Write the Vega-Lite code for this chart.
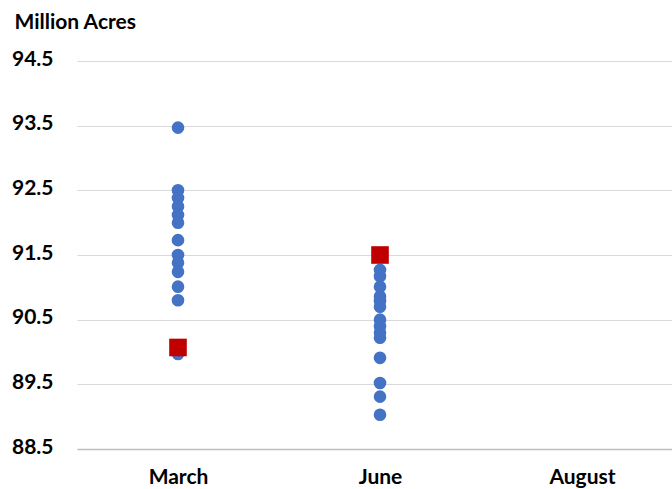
{
  "$schema": "https://vega.github.io/schema/vega-lite/v6.json",
  "width": 606,
  "height": 388,
  "autosize": {"type": "none"},
  "padding": {"left": 77, "top": 61, "right": 0, "bottom": 40},
  "background": "white",
  "config": {
    "view": {"stroke": null},
    "font": "Lato"
  },
  "data": {
    "values": [
      {"month": "March", "value": 93.47, "type": "Analyst"},
      {"month": "March", "value": 92.5, "type": "Analyst"},
      {"month": "March", "value": 92.38, "type": "Analyst"},
      {"month": "March", "value": 92.25, "type": "Analyst"},
      {"month": "March", "value": 92.12, "type": "Analyst"},
      {"month": "March", "value": 92.0, "type": "Analyst"},
      {"month": "March", "value": 91.73, "type": "Analyst"},
      {"month": "March", "value": 91.5, "type": "Analyst"},
      {"month": "March", "value": 91.38, "type": "Analyst"},
      {"month": "March", "value": 91.24, "type": "Analyst"},
      {"month": "March", "value": 91.01, "type": "Analyst"},
      {"month": "March", "value": 90.8, "type": "Analyst"},
      {"month": "March", "value": 89.97, "type": "Analyst"},
      {"month": "June", "value": 91.27, "type": "Analyst"},
      {"month": "June", "value": 91.17, "type": "Analyst"},
      {"month": "June", "value": 91.01, "type": "Analyst"},
      {"month": "June", "value": 90.86, "type": "Analyst"},
      {"month": "June", "value": 90.79, "type": "Analyst"},
      {"month": "June", "value": 90.7, "type": "Analyst"},
      {"month": "June", "value": 90.5, "type": "Analyst"},
      {"month": "June", "value": 90.4, "type": "Analyst"},
      {"month": "June", "value": 90.3, "type": "Analyst"},
      {"month": "June", "value": 90.22, "type": "Analyst"},
      {"month": "June", "value": 89.91, "type": "Analyst"},
      {"month": "June", "value": 89.52, "type": "Analyst"},
      {"month": "June", "value": 89.31, "type": "Analyst"},
      {"month": "June", "value": 89.03, "type": "Analyst"},
      {"month": "March", "value": 90.07, "type": "USDA"},
      {"month": "June", "value": 91.5, "type": "USDA"}
    ]
  },
  "mark": {"type": "point", "filled": true, "opacity": 1},
  "encoding": {
    "x": {
      "field": "month",
      "type": "nominal",
      "sort": ["March", "June", "August"],
      "scale": {"domain": ["March", "June", "August"], "paddingInner": 0, "paddingOuter": 0},
      "axis": {
        "title": null,
        "labelAngle": 0,
        "labelFont": "Lato",
        "labelFontSize": 21,
        "labelFontWeight": "bold",
        "labelColor": "#000000",
        "labelPadding": 17,
        "ticks": false,
        "domain": true,
        "domainColor": "#bfbfbf",
        "domainWidth": 1.5,
        "grid": false
      }
    },
    "y": {
      "field": "value",
      "type": "quantitative",
      "scale": {"domain": [88.5, 94.5], "zero": false, "nice": false},
      "axis": {
        "values": [88.5, 89.5, 90.5, 91.5, 92.5, 93.5, 94.5],
        "format": ".1f",
        "title": "Million Acres",
        "titleAngle": 0,
        "titleAlign": "left",
        "titleBaseline": "alphabetic",
        "titleX": -63,
        "titleY": -33,
        "titleFont": "Lato",
        "titleFontSize": 21,
        "titleFontWeight": "bold",
        "titleColor": "#000000",
        "labelFont": "Lato",
        "labelFontSize": 21,
        "labelFontWeight": "bold",
        "labelColor": "#000000",
        "labelPadding": 24,
        "labelOffset": -2,
        "ticks": false,
        "domain": false,
        "grid": true,
        "gridColor": "#d9d9d9",
        "gridWidth": 1
      }
    },
    "shape": {
      "field": "type",
      "type": "nominal",
      "scale": {"domain": ["Analyst", "USDA"], "range": ["circle", "square"]},
      "legend": null
    },
    "color": {
      "field": "type",
      "type": "nominal",
      "scale": {"domain": ["Analyst", "USDA"], "range": ["#4472C4", "#C00000"]},
      "legend": null
    },
    "size": {
      "field": "type",
      "type": "nominal",
      "scale": {"domain": ["Analyst", "USDA"], "range": [160, 310]},
      "legend": null
    }
  }
}
